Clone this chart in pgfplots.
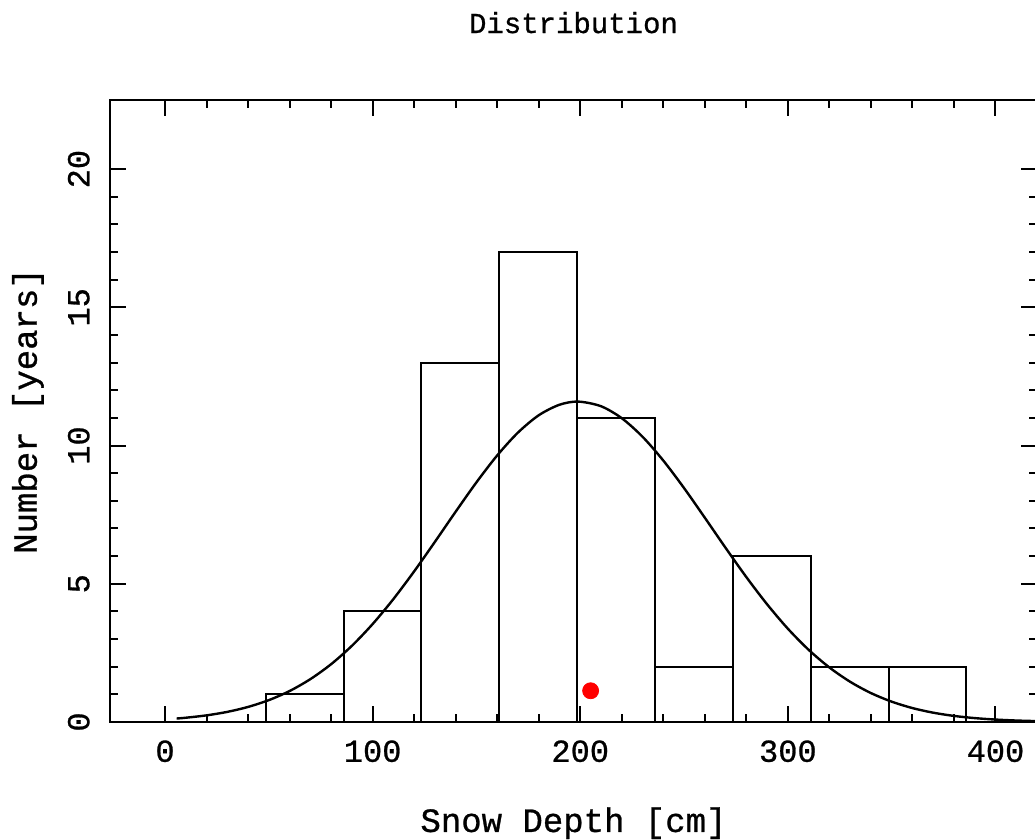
\documentclass[border=0pt]{standalone}
\usepackage{fontspec}
\setmainfont[FakeBold=0.8]{Liberation Mono}
\usepackage{pgfplots}
\pgfplotsset{compat=1.18}
\usetikzlibrary{calc}

\begin{document}
\begin{tikzpicture}
\begin{axis}[
  name=ax,
  scale only axis,
  width=463.5pt, height=311pt,
  xmin=-26.5, xmax=420, ymin=0, ymax=22.5,
  xtick={0,100,200,300,400}, minor x tick num=4,
  ytick={0,5,10,15,20}, minor y tick num=4,
  tick align=inside,
  major tick length=8pt, minor tick length=4pt,
  every tick/.style={black, line width=1pt},
  axis line style={line width=1.2pt},
  /pgf/number format/assume math mode=true,
  tick label style={font=\fontsize{16}{18}\selectfont, inner sep=0pt},
  xticklabel shift=9pt,
  yticklabel style={rotate=90, anchor=south},
  yticklabel shift=10pt,
  title={Distribution},
  title style={at={(axis description cs:0.5,1.0884)}, anchor=base, font=\fontsize{14.5}{17}\selectfont},
  xlabel={Snow Depth [cm]},
  xlabel style={at={(axis description cs:0.5,-0.1768)}, anchor=base, font=\fontsize{17}{20}\selectfont},
  ylabel={Number [years]},
  ylabel style={at={(axis description cs:-0.0885,0.5)}, anchor=center, rotate=0, font=\fontsize{17}{20}\selectfont},
]
% histogram
\addplot[ybar interval, draw=black, fill=none, line width=1pt]
  coordinates {
    (48.5,1) (86,4) (123.5,13) (161,17) (198.5,11)
    (236,2) (273.5,6) (311,2) (348.5,2) (386,2) };
% fitted gaussian
\addplot[black, line width=1.2pt, smooth, no marks]
  coordinates {
    (5.6,0.126) (10,0.154) (20,0.240) (30,0.366) (40,0.545) (50,0.791)
    (60,1.120) (70,1.550) (80,2.091) (90,2.755) (100,3.543) (110,4.447)
    (120,5.449) (130,6.517) (140,7.608) (150,8.669) (160,9.643) (170,10.469)
    (180,11.095) (190,11.476) (199,11.59) (210,11.422) (220,10.989) (230,10.319)
    (240,9.457) (250,8.462) (260,7.390) (270,6.300) (280,5.242) (290,4.258)
    (300,3.375) (310,2.612) (320,1.973) (330,1.455) (340,1.047) (350,0.736)
    (360,0.504) (370,0.337) (380,0.220) (390,0.141) (400,0.088) (410,0.053)
    (420,0.032) };
% single point
\addplot[only marks, mark=*, mark size=4pt, red, mark options={draw=none, fill=red}]
  coordinates {(205,1.13)};
\end{axis}
\pgfresetboundingbox
\path[use as bounding box] ($(ax.south west)+(-55pt,-59pt)$) rectangle ($(ax.north east)+(-1pt,50pt)$);
\end{tikzpicture}
\end{document}
